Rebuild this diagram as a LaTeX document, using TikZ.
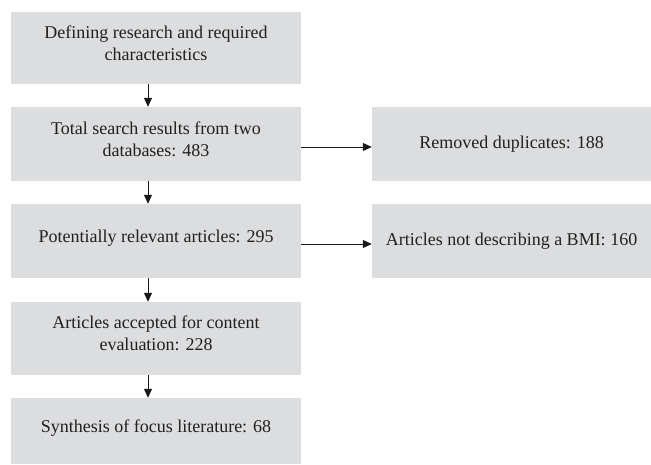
\documentclass[tikz,border=0pt]{standalone}
\usepackage{fontspec}
\setmainfont{Liberation Serif}
\usetikzlibrary{arrows.meta}
\definecolor{boxgray}{RGB}{220,221,223}
\definecolor{txtgray}{RGB}{35,31,32}
\tikzset{
  stage/.style={fill=boxgray, text=txtgray, font=\fontsize{18}{22}\selectfont, align=center, inner sep=0pt, minimum width=290pt, text depth=10pt},
  excl/.style={fill=boxgray, text=txtgray, font=\fontsize{18}{22}\selectfont, align=center, inner sep=0pt, minimum width=279pt, minimum height=74pt},
  flow/.style={-{Triangle[length=9pt,width=8pt]}, line width=1pt, draw=black!90}
}
\begin{document}
\begin{tikzpicture}[x=1pt,y=-1pt]
\useasboundingbox (0,0) rectangle (651,464);
\node[stage, minimum height=72pt] (define) at (156,48) {Defining research and required\\characteristics};
\node[stage, minimum height=74pt] (total) at (156,144) {Total search results from two\\databases: 483};
\node[stage, minimum height=74pt] (relevant) at (156,241) {Potentially relevant articles: 295};
\node[stage, minimum height=73pt] (accepted) at (156,338.5) {Articles accepted for content\\evaluation: 228};
\node[stage, minimum height=66pt] (synth) at (156,431) {Synthesis of focus literature: 68};

\node[excl] (dup) at (511.5,144) {Removed duplicates: 188};
\node[excl] (nobmi) at (511.5,241) {Articles not describing a BMI: 160};

\draw[flow] ([xshift=-8pt]define.south) -- ([xshift=-8pt]total.north);
\draw[flow] ([xshift=-8pt]total.south) -- ([xshift=-8pt]relevant.north);
\draw[flow] ([xshift=-8pt]relevant.south) -- ([xshift=-8pt]accepted.north);
\draw[flow] ([xshift=-8pt]accepted.south) -- ([xshift=-8pt]synth.north);
\draw[flow] ([yshift=-3pt]total.east) -- ([yshift=-3pt]dup.west);
\draw[flow] ([yshift=-3pt]relevant.east) -- ([yshift=-3pt]nobmi.west);
\end{tikzpicture}
\end{document}
